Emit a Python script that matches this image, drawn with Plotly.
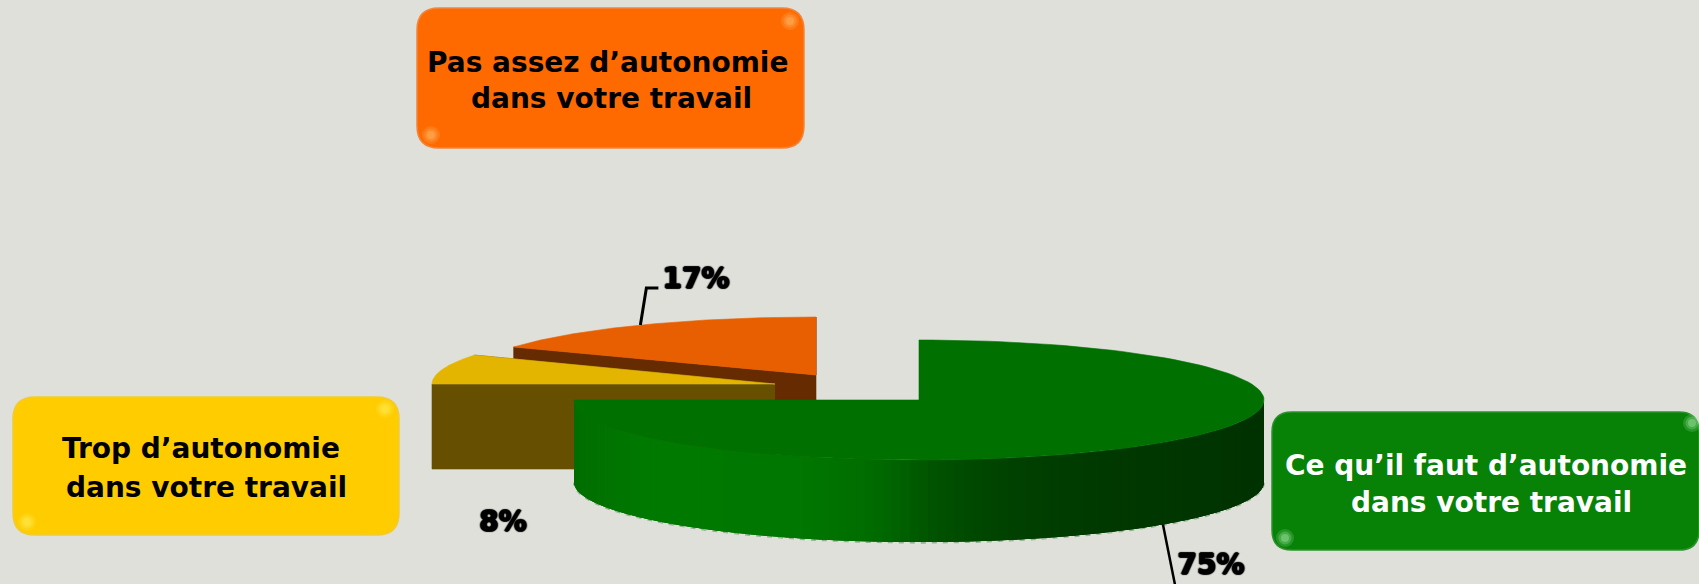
import math
import numpy as np
import plotly.graph_objects as go

# ---- data ----
categories = ["Ce qu’il faut d’autonomie dans votre travail",
              "Trop d’autonomie dans votre travail",
              "Pas assez d’autonomie dans votre travail"]
values = [75, 8, 17]

# ---- geometry & style (drawing, not data) ----
W, H = 1699, 584
BG = "#DFE0DA"
centers = [(919, 400), (775, 384), (816, 375)]
rx_list = [345, 343, 345]
ry_list = [60, 60, 58]
depths = [82, 85, 82]
top_col = ["#007000", "#E3B500", "#E75F00"]
side_col = ["#006E00", "#665000", "#662B00"]
draw_order = [2, 1, 0]
ramp_x = [574, 650, 800, 880, 940, 1010, 1100, 1264]
ramp_g = [110, 122, 120, 108, 82, 66, 58, 50]

boxes = [
    dict(x0=1272, x1=1699, y0=412, y1=550, r=20, fill="#078207", edge="#2C922C",
         glows=[(1692, 423), (1285, 538)], glow="#B0F0B0", tcol="#FFFFFF",
         lines=[("Ce qu’il faut d’autonomie", 1486, 465), ("dans votre travail", 1491, 502)]),
    dict(x0=13, x1=399, y0=397, y1=535, r=22, fill="#FFCC00", edge="#F1CB33",
         glows=[(385, 409), (27, 522)], glow="#FFF15A", tcol="#000000",
         lines=[("Trop d’autonomie", 201, 448), ("dans votre travail", 206, 487)]),
    dict(x0=417, x1=804, y0=8, y1=148, r=22, fill="#FF6A00", edge="#F2853E",
         glows=[(790, 21), (431, 135)], glow="#FFC070", tcol="#000000",
         lines=[("Pas assez d’autonomie", 607, 62), ("dans votre travail", 611, 98)]),
]
pct_pos = [(1211, 567), (503, 524), (696, 281)]

# ---- angles come from the values (clockwise from 12 o'clock) ----
total = sum(values)
bounds = np.cumsum([0] + values) / total * 2 * math.pi
spans = list(zip(bounds[:-1], bounds[1:]))


def rim(i, th):
    cx, cy = centers[i]
    return cx + rx_list[i] * np.sin(th), cy - ry_list[i] * np.cos(th)


fig = go.Figure()


def poly(xs, ys, fill, lw=0.6, name=None):
    fig.add_trace(go.Scatter(x=list(xs), y=list(ys), mode="lines", fill="toself",
                             fillcolor=fill, line=dict(color=fill, width=lw),
                             hoverinfo="skip", showlegend=False, name=name))


for i in draw_order:
    a, b = spans[i]
    cx, cy = centers[i]
    d = depths[i]
    th = np.linspace(a, b, 120)
    ex, ey = rim(i, th)
    if i == 0:
        # pale dashed rim under the front edge
        t2 = np.linspace(math.pi / 2, 3 * math.pi / 2, 200)
        rx_, ry_ = rim(0, t2)
        fig.add_trace(go.Scatter(x=rx_, y=ry_ + d + 0.8, mode="lines",
                                 line=dict(color="#8DB58D", width=1.8, dash="5px,6px"),
                                 hoverinfo="skip", showlegend=False))
        # shaded cylinder side: overlapping strips painted right to left, no seams
        edges = np.linspace(math.pi / 2, 3 * math.pi / 2, 121)
        end = 3 * math.pi / 2
        for t0 in edges[:-1]:
            tt = np.linspace(t0, min(t0 + 0.08, end), 5)
            sx, sy = rim(0, tt)
            g = int(np.interp(rim(0, t0)[0], ramp_x, ramp_g))
            fig.add_trace(go.Scatter(x=np.r_[sx, sx[::-1]], y=np.r_[sy, sy[::-1] + d],
                                     mode="none", fill="toself", fillcolor=f"rgb(0,{g},0)",
                                     hoverinfo="skip", showlegend=False))
    else:
        # cut faces visible from the front
        for t in (a, b):
            px, py = rim(i, t)
            poly([cx, px, px, cx], [cy, py, py + d, cy + d], side_col[i])
    poly(np.r_[cx, ex, cx], np.r_[cy, ey, cy], top_col[i], name=categories[i])

# ---- leader lines anchored on mid-slice rim points ----
ax, ay = rim(2, sum(spans[2]) / 2)
fig.add_trace(go.Scatter(x=[ax, ax + 6, ax + 18], y=[ay, ay - 37, ay - 37], mode="lines",
                         line=dict(color="#000", width=3), hoverinfo="skip", showlegend=False))
ax, ay = rim(0, sum(spans[0]) / 2)
fig.add_trace(go.Scatter(x=[ax, ax + 12], y=[ay + depths[0], ay + depths[0] + 60], mode="lines",
                         line=dict(color="#000", width=2.5), hoverinfo="skip", showlegend=False))

# ---- percent labels ----
fig.add_trace(go.Scatter(x=[p[0] for p in pct_pos], y=[p[1] for p in pct_pos], mode="text",
                         text=[f"{v}%" for v in values], textposition="middle center",
                         cliponaxis=False,
                         textfont=dict(family="DejaVu Sans", size=28, color="#000", weight="bold",
                                       shadow="1px 0 1px #000, -1px 0 1px #000, 0 1px 1px #000, 0 -1px 1px #000"),
                         hoverinfo="skip", showlegend=False))

# ---- legend boxes ----
shapes = []
annotations = []
for b in boxes:
    x0, x1, y0, y1, r = b["x0"], b["x1"], b["y0"], b["y1"], b["r"]
    path = (f"M{x0+r},{y0} L{x1-r},{y0} Q{x1},{y0} {x1},{y0+r} L{x1},{y1-r} Q{x1},{y1} {x1-r},{y1} "
            f"L{x0+r},{y1} Q{x0},{y1} {x0},{y1-r} L{x0},{y0+r} Q{x0},{y0} {x0+r},{y0} Z")
    shapes.append(dict(type="path", path=path, fillcolor=b["fill"],
                       line=dict(color=b["edge"], width=1.5), layer="below"))
    for gx, gy in b["glows"]:
        for rad, op in ((9, 0.18), (6.5, 0.25), (4, 0.35)):
            shapes.append(dict(type="circle", x0=gx - rad, x1=gx + rad, y0=gy - rad, y1=gy + rad,
                               fillcolor=b["glow"], opacity=op, line_width=0, layer="below"))
    for txt, tx, ty in b["lines"]:
        annotations.append(dict(x=tx, y=ty, text=f"<b>{txt}</b>", showarrow=False,
                                xanchor="center", yanchor="middle",
                                font=dict(family="DejaVu Sans", size=28, color=b["tcol"])))

fig.update_layout(
    width=W, height=H, margin=dict(l=0, r=0, t=0, b=0), autosize=False,
    paper_bgcolor=BG, plot_bgcolor=BG, showlegend=False,
    xaxis=dict(range=[0, W], visible=False, fixedrange=True),
    yaxis=dict(range=[H, 0], visible=False, fixedrange=True),
    shapes=shapes, annotations=annotations,
)
fig.write_html("out.html", config=dict(displayModeBar=False),
               post_script="document.body.style.margin='0';document.body.style.overflow='hidden';")
